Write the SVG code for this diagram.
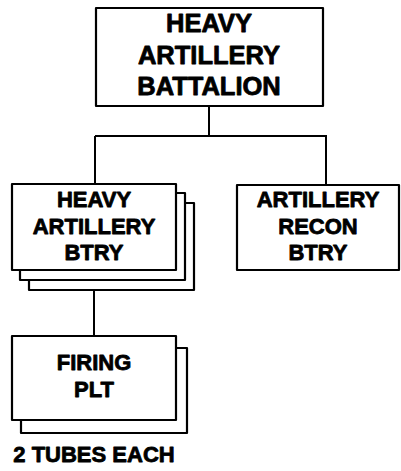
<svg xmlns="http://www.w3.org/2000/svg" width="401" height="471" viewBox="0 0 401 471">
<style>
.box{fill:#fff;stroke:#000;stroke-width:2.2;stroke-linejoin:round}
.t{font-family:"Liberation Sans",Arial,sans-serif;font-weight:bold;font-size:22px;text-anchor:middle;fill:#000;stroke:#000;stroke-width:0.8;stroke-linejoin:round}
.big{font-size:25.5px}
.con{fill:none;stroke:#000;stroke-width:2}
</style>
<rect width="401" height="471" fill="#fff"/>
<g id="connectors">
<line class="con" x1="209" y1="106" x2="209" y2="136"/>
<line class="con" x1="95" y1="136" x2="327" y2="136"/>
<line class="con" x1="95" y1="136" x2="95" y2="184"/>
<line class="con" x1="326" y1="136" x2="326" y2="185"/>
<line class="con" x1="94" y1="290" x2="94" y2="336"/>
</g>
<g id="battalion">
<rect class="box" x="96" y="8" width="227" height="98"/>
<text class="t big" x="209" y="32">HEAVY</text>
<text class="t big" x="209" y="64">ARTILLERY</text>
<text class="t big" x="209" y="95">BATTALION</text>
</g>
<g id="heavy-btry">
<rect class="box" x="29" y="203" width="165" height="87"/>
<rect class="box" x="20" y="193" width="165" height="87"/>
<rect class="box" x="12" y="184" width="164" height="86"/>
<text class="t" x="94" y="207">HEAVY</text>
<text class="t" x="94" y="234">ARTILLERY</text>
<text class="t" x="94" y="260">BTRY</text>
</g>
<g id="recon-btry">
<rect class="box" x="237" y="185" width="162" height="85"/>
<text class="t" x="318" y="207">ARTILLERY</text>
<text class="t" x="318" y="234">RECON</text>
<text class="t" x="318" y="260">BTRY</text>
</g>
<g id="firing-plt">
<rect class="box" x="21" y="348" width="166" height="85"/>
<rect class="box" x="12" y="336" width="164" height="84"/>
<text class="t" x="94" y="370">FIRING</text>
<text class="t" x="94" y="397">PLT</text>
</g>
<g id="note">
<text class="t" x="94" y="462">2 TUBES EACH</text>
</g>
</svg>
